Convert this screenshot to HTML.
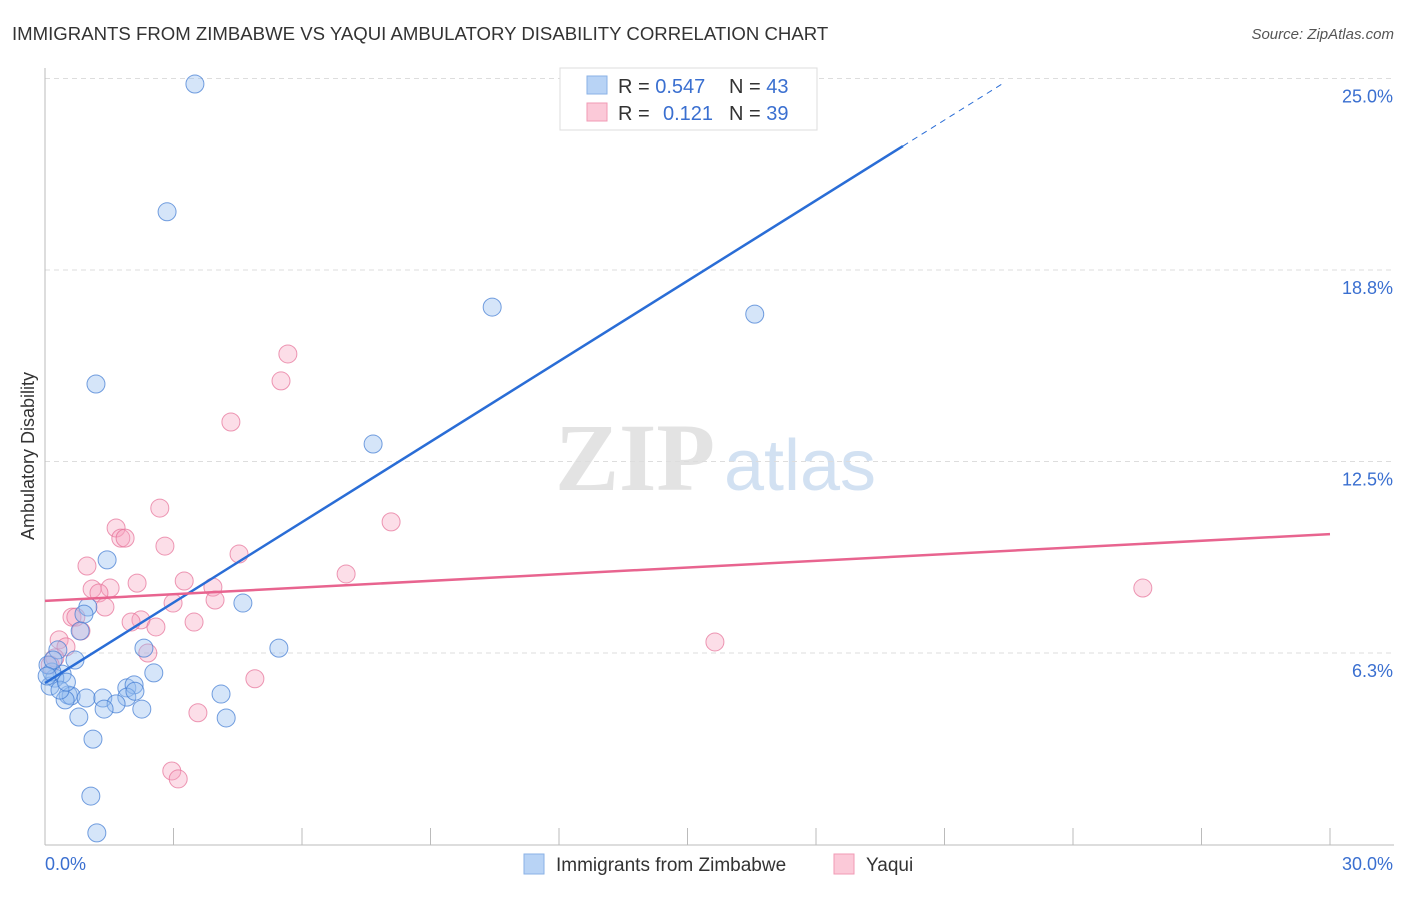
<!DOCTYPE html>
<html><head><meta charset="utf-8">
<style>
body{margin:0;background:#fff;font-family:"Liberation Sans",sans-serif;}
svg text{font-family:"Liberation Sans",sans-serif;}
</style></head>
<body>
<svg id="chart" width="1406" height="892" xmlns="http://www.w3.org/2000/svg">
<text x="12" y="40" font-size="18.6" fill="#333">IMMIGRANTS FROM ZIMBABWE VS YAQUI AMBULATORY DISABILITY CORRELATION CHART</text>
<text x="1394" y="39" font-size="15" fill="#555" font-style="italic" text-anchor="end">Source: ZipAtlas.com</text>
<text transform="translate(34,456) rotate(-90)" font-size="18" fill="#333" text-anchor="middle">Ambulatory Disability</text>
<g>
<text x="635" y="490" font-size="96" fill="#ddd" font-weight="bold" style="font-family:'Liberation Serif',serif" text-anchor="middle" opacity="0.8">ZIP</text>
<text x="800" y="490" font-size="72" fill="#c8daf0" text-anchor="middle" opacity="0.8">atlas</text>
</g>
<g id="grid"></g>
<g id="axes"></g>
<g id="pts"></g>
<g id="lines"></g>
<g>
<rect x="560" y="68" width="257" height="62" fill="#fff" stroke="#ddd"/>
<rect x="587" y="76" width="20" height="18" fill="#b8d3f5" stroke="#8ab2e6"/>
<rect x="587" y="103" width="20" height="18" fill="#fbc9d8" stroke="#f09ab5"/>
<text x="618" y="93" font-size="20" fill="#333">R = <tspan fill="#3a6fd0">0.547</tspan><tspan x="729">N = </tspan><tspan fill="#3a6fd0">43</tspan></text>
<text x="618" y="120" font-size="20" fill="#333">R = <tspan x="663" fill="#3a6fd0">0.121</tspan><tspan x="729">N = </tspan><tspan fill="#3a6fd0">39</tspan></text>
</g>
<g>
<rect x="524" y="854" width="20" height="20" fill="#b8d3f5" stroke="#8ab2e6"/>
<text x="556" y="871" font-size="19" fill="#333">Immigrants from Zimbabwe</text>
<rect x="834" y="854" width="20" height="20" fill="#fbc9d8" stroke="#f09ab5"/>
<text x="866" y="871" font-size="19" fill="#333">Yaqui</text>
</g>
</svg>
<script>
const blueX=[3.50,2.85,10.44,16.57,1.19,7.66,1.45,4.62,1.00,0.91,5.46,0.82,2.31,0.70,2.54,0.40,0.23,0.12,0.16,0.54,0.61,0.47,0.96,1.35,1.91,2.08,1.91,4.11,1.66,1.38,2.26,0.79,4.23,1.12,1.07,1.21,0.30,0.07,0.35,0.19,2.1,0.5,0.05];
const blueY=[24.82,20.65,17.54,17.31,15.03,13.07,9.29,7.88,7.75,7.52,6.41,6.97,6.41,6.02,5.60,5.56,5.43,5.17,5.63,4.88,4.85,4.72,4.78,4.78,5.11,5.21,4.81,4.91,4.59,4.42,4.42,4.16,4.13,3.44,1.58,0.38,6.35,5.86,5.04,6.02,5.0,5.3,5.5];
const pinkX=[5.67,5.51,4.34,8.08,2.68,1.66,1.77,1.87,2.80,4.53,0.98,7.03,3.25,2.15,1.10,1.52,1.26,3.92,3.97,2.99,1.40,0.63,0.72,2.24,2.01,3.48,2.59,0.84,0.33,0.49,2.40,15.64,25.63,4.90,3.57,2.96,3.11,0.23,0.12];
const pinkY=[16.01,15.13,13.79,10.53,10.98,10.33,10.00,10.00,9.74,9.48,9.09,8.83,8.60,8.53,8.34,8.37,8.21,8.40,7.98,7.88,7.75,7.42,7.42,7.33,7.26,7.26,7.10,6.97,6.68,6.45,6.25,6.61,8.37,5.41,4.30,2.40,2.14,6.09,5.86];
const yTicks=[6.25,12.5,18.75,25];
const yTickLabels=["6.3%","12.5%","18.8%","25.0%"];
const xTicks=[0,3,6,9,12,15,18,21,24,27,30];
const blueTrend=[5.27,0.875];
const pinkTrend=[7.95,0.0727];
const blueSolidEnd=20.03, blueDashEnd=22.4;

const X=v=>45+v/30*1285;
const Y=v=>844.5-v/6.25*191.5;
const NS="http://www.w3.org/2000/svg";
function mk(tag,parent,attrs){const e=document.createElementNS(NS,tag);for(const k in attrs)e.setAttribute(k,attrs[k]);document.getElementById(parent).appendChild(e);return e;}

yTicks.forEach((t,i)=>{
  const g=mk('line','grid',{x1:45,x2:1394,y1:Y(t),y2:Y(t),stroke:'#ddd','stroke-dasharray':'5,4'});
  
  
  const l=mk('text','axes',{x:1393,y:Y(t)+24,'font-size':18,fill:'#3a6fd0','text-anchor':'end'});
  l.textContent=yTickLabels[i];
  
  
});
const ax=mk('line','axes',{x1:45,x2:1394,y1:845,y2:845,stroke:'#bbb'});


const ay=mk('line','axes',{x1:45,x2:45,y1:68,y2:845,stroke:'#bbb'});


xTicks.forEach(t=>{
  const tk=mk('line','axes',{x1:X(t),x2:X(t),y1:828,y2:845,stroke:'#bbb'});
  
  
});
const x0=mk('text','axes',{x:45,y:870,'font-size':18,fill:'#3a6fd0'});x0.textContent='0.0%';


const x1=mk('text','axes',{x:1393,y:870,'font-size':18,fill:'#3a6fd0','text-anchor':'end'});x1.textContent='30.0%';



pinkX.forEach((v,i)=>{
  const c=mk('circle','pts',{cx:X(v),cy:Y(pinkY[i]),r:9,fill:'rgba(246,160,188,0.35)',stroke:'rgba(230,110,150,0.7)','stroke-width':1});
  
  
});
blueX.forEach((v,i)=>{
  const c=mk('circle','pts',{cx:X(v),cy:Y(blueY[i]),r:9,fill:'rgba(150,190,240,0.4)',stroke:'rgba(60,120,210,0.7)','stroke-width':1});
  
  
});
const bl=mk('line','lines',{x1:X(0),y1:Y(blueTrend[0]),x2:X(blueSolidEnd),y2:Y(blueTrend[0]+blueTrend[1]*blueSolidEnd),stroke:'#2a6dd6','stroke-width':2.5});


const bd=mk('line','lines',{x1:X(blueSolidEnd),y1:Y(blueTrend[0]+blueTrend[1]*blueSolidEnd),x2:X(blueDashEnd),y2:Y(blueTrend[0]+blueTrend[1]*blueDashEnd),stroke:'#2a6dd6','stroke-width':1,'stroke-dasharray':'6,5'});


const pl=mk('line','lines',{x1:X(0),y1:Y(pinkTrend[0]),x2:X(30),y2:Y(pinkTrend[0]+pinkTrend[1]*30),stroke:'#e8648f','stroke-width':2.5});


</script>
</body></html>
